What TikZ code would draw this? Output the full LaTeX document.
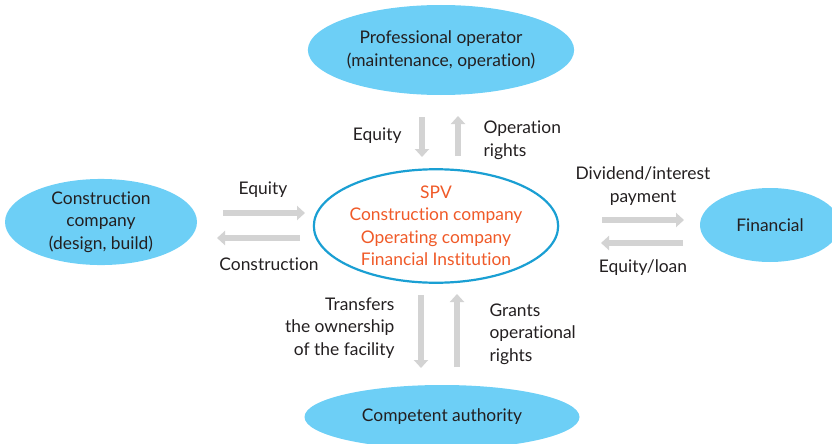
\documentclass[tikz,border=0pt]{standalone}
\usepackage{fontspec}
\setmainfont{Lato}[Ligatures={NoCommon,NoRare,NoContextual}]
\usetikzlibrary{arrows.meta,shapes.geometric}
\definecolor{skyfill}{HTML}{6DCFF6}
\definecolor{spvline}{HTML}{1A9FD3}
\definecolor{spvtext}{HTML}{F05A28}
\definecolor{flowgray}{HTML}{D3D3D3}
\definecolor{inkgray}{HTML}{231F20}
\begin{document}
\begin{tikzpicture}[x=1pt,y=-1pt,
    every node/.style={text=inkgray, font=\fontsize{17.4}{22.5}\selectfont},
    party/.style={ellipse, fill=skyfill, inner sep=0pt, align=center},
    flow/.style={draw=flowgray, line width=6.5pt, -{Triangle[width=14pt,length=8pt]}}]
          \useasboundingbox (0,0) rectangle (832,444);
          \node[party, minimum width=234pt, minimum height=90pt] (oper) at (441,50){Professional operator\\(maintenance, operation)};
          \node[party, minimum width=192pt, minimum height=86pt] (cons) at (101,222){Construction\\company\\(design, build)};
          \node[party, minimum width=140pt, minimum height=74pt] (fin) at (770,225){Financial};
          \node[party, minimum width=275pt, minimum height=64pt] (auth) at (442,417){Competent authority};
          \node[ellipse, draw=spvline, line width=2.2pt, fill=white, inner sep=0pt, minimum width=240pt, minimum height=100pt, align=center, text=spvtext] (spv) at (436,226){SPV\\Construction company\\Operating company\\Financial Institution};
          % top pair
          \coordinate (t1a) at (422,117);
          \coordinate (t1b) at (422,157);
          \coordinate (t2a) at (458,156);
          \coordinate (t2b) at (458,116);
          \draw[flow](t1a) -- (t1b);
          \draw[flow](t2a) -- (t2b);
          \node[anchor=east] (eqtop) at (405,136){Equity};
          \node[anchor=west, align=left] (oprights) at (480,140){Operation\\rights};
          % left pair
          \coordinate (l1a) at (223,213);
          \coordinate (l1b) at (305,213);
          \coordinate (l2a) at (300,238);
          \coordinate (l2b) at (217,238);
          \draw[flow](l1a) -- (l1b);
          \draw[flow](l2a) -- (l2b);
          \node (eqleft) at (263,190){Equity};
          \node (build) at (269,264){Construction};
          % right pair
          \coordinate (r1a) at (602,220);
          \coordinate (r1b) at (684,220);
          \coordinate (r2a) at (683,243);
          \coordinate (r2b) at (601,243);
          \draw[flow](r1a) -- (r1b);
          \draw[flow](r2a) -- (r2b);
          \node[align=center] (divid) at (643,186){Dividend/interest\\payment};
          \node (eqloan) at (643,268){Equity/loan};
          % bottom pair
          \coordinate (b1a) at (421,295);
          \coordinate (b1b) at (421,368);
          \coordinate (b2a) at (457,367);
          \coordinate (b2b) at (457,294);
          \draw[flow](b1a) -- (b1b);
          \draw[flow](b2a) -- (b2b);
          \node[anchor=east, align=right] (transf) at (398,328){Transfers\\the ownership\\of the facility};
          \node[anchor=west, align=left] (grants) at (486,334){Grants\\operational\\rights};
        \end{tikzpicture}
\end{document}
